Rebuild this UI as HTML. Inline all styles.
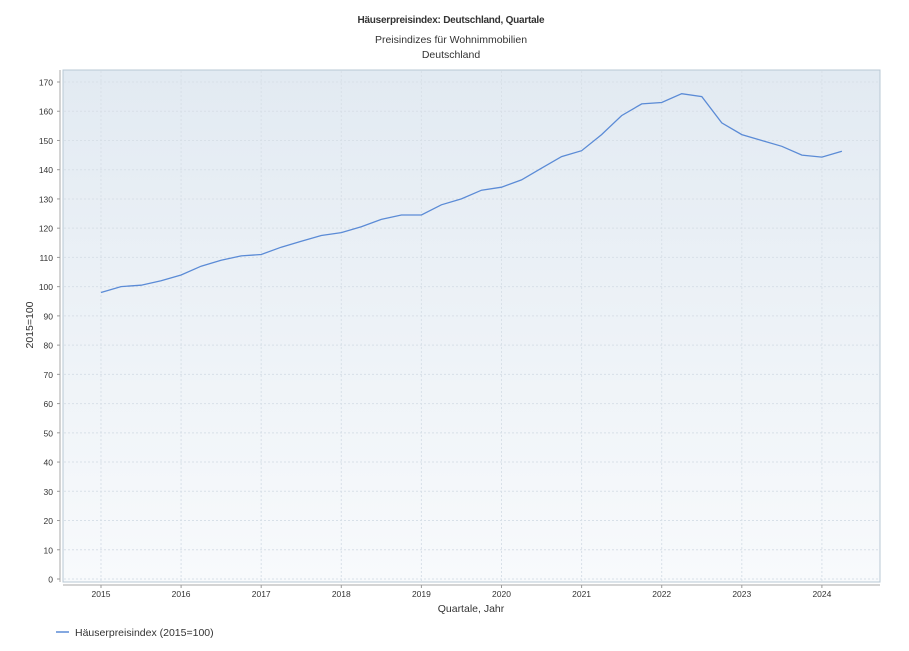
<!DOCTYPE html>
<html><head><meta charset="utf-8"><style>
body{margin:0;background:#fff;font-family:"Liberation Sans",sans-serif;}
svg text{font-family:"Liberation Sans",sans-serif;fill:#333;}
</style></head><body>
<svg width="909" height="646">
<defs><linearGradient id="bg" x1="0" y1="0" x2="0" y2="1"><stop offset="0" stop-color="#e2eaf2"/><stop offset="1" stop-color="#f8fafc"/></linearGradient></defs>
<text x="451" y="23" text-anchor="middle" font-size="10" font-weight="bold" textLength="187">Häuserpreisindex: Deutschland, Quartale</text>
<text x="451" y="43" text-anchor="middle" font-size="10.5">Preisindizes für Wohnimmobilien</text>
<text x="451" y="58" text-anchor="middle" font-size="10.5">Deutschland</text>
<rect x="63" y="70" width="817" height="512" fill="url(#bg)" stroke="#b8c8d4"/>
<line x1="60" y1="70" x2="60" y2="582" stroke="#aaa"/>
<line x1="63" y1="585" x2="880" y2="585" stroke="#aaa"/>
<g id="grid"></g><g id="ticks"></g>
<text transform="translate(33,325) rotate(-90)" text-anchor="middle" font-size="10.5">2015=100</text>
<text x="471" y="612" text-anchor="middle" font-size="10.5">Quartale, Jahr</text>
<path id="line" fill="none" stroke="#5b8bd6" stroke-width="1.3"/>
<g><line x1="56" y1="632" x2="69" y2="632" stroke="#5b8bd6" stroke-width="1.5"/><text x="75" y="636" font-size="10.5">Häuserpreisindex (2015=100)</text></g>
</svg>
<script>
const years=[2015,2016,2017,2018,2019,2020,2021,2022,2023,2024];
const yTicks=[0,10,20,30,40,50,60,70,80,90,100,110,120,130,140,150,160,170];
const values=[98,100,100.5,102,104,107,109,110.5,111,113.5,115.5,117.5,118.5,120.5,123,124.5,124.5,128,130,133,134,136.5,140.5,144.5,146.5,152,158.5,162.5,163,166,165,156,152,150,148,145,144.3,146.3];
const NS='http://www.w3.org/2000/svg';
const xs=q=>101+q*80.1/4, ys=v=>579-v*497/170;
const grid=document.getElementById('grid'),ticks=document.getElementById('ticks');
function mk(p,t,a){const e=document.createElementNS(NS,t);for(const k in a)e.setAttribute(k,a[k]);p.appendChild(e);return e;}
yTicks.forEach(v=>{const y=ys(v);
 const g=mk(grid,'line',{x1:64,x2:879,y1:y,y2:y,stroke:'#d8e0e8','stroke-dasharray':'2,2'});
 
 
 mk(ticks,'line',{x1:57,x2:60,y1:y,y2:y,stroke:'#999'});
 const t=mk(ticks,'text',{x:53,y:y+3.5,'text-anchor':'end','font-size':8.5});t.textContent=v;
 
 });
years.forEach((yr,i)=>{const x=xs(i*4);
 const g=mk(grid,'line',{x1:x,x2:x,y1:71,y2:581,stroke:'#d8e0e8','stroke-dasharray':'2,2'});
 
 
 mk(ticks,'line',{x1:x,x2:x,y1:585,y2:588,stroke:'#999'});
 const t=mk(ticks,'text',{x:x,y:597,'text-anchor':'middle','font-size':8.5});t.textContent=yr;
 
 });
document.getElementById('line').setAttribute('d',values.map((v,i)=>(i?'L':'M')+xs(i).toFixed(1)+','+ys(v).toFixed(1)).join(''));
</script>
</body></html>
